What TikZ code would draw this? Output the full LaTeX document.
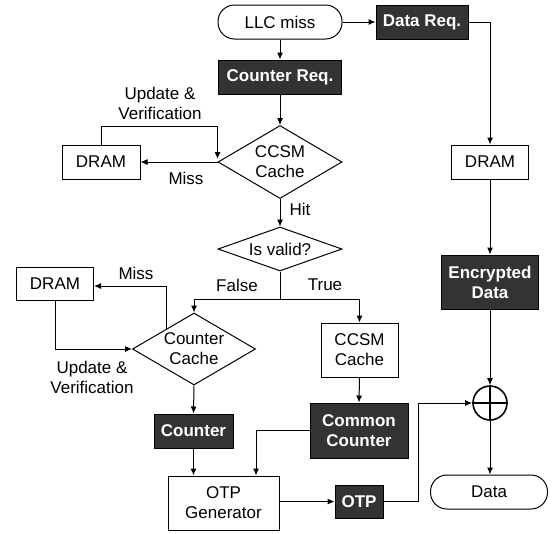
\documentclass[tikz,border=0pt]{standalone}
\usepackage{fontspec}
\setmainfont{Liberation Sans}
\usetikzlibrary{shapes.geometric,arrows.meta,calc}
\definecolor{darkbg}{HTML}{333333}
\begin{document}
\begin{tikzpicture}[x=1pt,y=-1pt,
  base/.style={font=\fontsize{17pt}{20pt}\selectfont, align=center, inner sep=0pt, line width=1pt},
  wbox/.style={base, draw, fill=white},
  dbox/.style={base, draw=black, fill=darkbg, text=white, font=\fontsize{17pt}{20pt}\selectfont\bfseries},
  term/.style={base, draw, rounded corners=16.5pt},
  dec/.style={base, draw, diamond},
  lbl/.style={base},
  arr/.style={-{Latex[length=7pt,width=6pt]}, line width=1pt},
  ln/.style={line width=1pt}]
\useasboundingbox (0,0) rectangle (553,533);

% top and left part
\node[term, minimum width=124pt, minimum height=34pt] (llc) at (280,22) {LLC miss};
\node[dbox, minimum width=92pt, minimum height=34pt] (dreq) at (422,22) {Data Req.};
\node[dbox, minimum width=123pt, minimum height=34pt] (creq) at (280,77) {Counter Req.};
\node[dec, shape aspect=1.7, minimum width=124pt, minimum height=73pt] (ccsm) at (280,162) {CCSM\\Cache};
\node[wbox, minimum width=78pt, minimum height=34pt] (dram1) at (101,162) {DRAM};
\node[dec, shape aspect=2.82, minimum width=124pt, minimum height=44pt] (valid) at (280,249) {Is valid?};
\node[dec, shape aspect=1.71, minimum width=123pt, minimum height=72pt] (cc) at (194,349) {Counter\\Cache};
\node[wbox, minimum width=77pt, minimum height=33pt] (dram2) at (55,284) {DRAM};
\node[wbox, minimum width=77pt, minimum height=54pt] (ccsmb) at (359.5,350) {CCSM\\Cache};
\node[dbox, minimum width=79pt, minimum height=34pt] (cnt) at (193.5,431) {Counter};
\node[dbox, minimum width=98pt, minimum height=55pt] (comm) at (359,430.5) {Common\\Counter};
\node[wbox, minimum width=111pt, minimum height=54pt] (otpg) at (223.5,503) {OTP\\Generator};
\node[dbox, minimum width=48pt, minimum height=33pt] (otp) at (359,501.5) {OTP};

% right column
\node[wbox, minimum width=77pt, minimum height=34pt] (dramr) at (490,162) {DRAM};
\node[dbox, minimum width=97pt, minimum height=54pt] (enc) at (490,282) {Encrypted\\Data};
\node[base, draw, circle, line width=1.6pt, minimum size=34pt] (xor) at (490,403) {};
\node[term, minimum width=117pt, minimum height=34pt] (data) at (489,492) {Data};
\draw[line width=1.6pt] (xor.north) -- (xor.south) (xor.west) -- (xor.east);

% labels
\node[lbl] (l1) at (160,103) {Update \&\\Verification};
\node[lbl] (l2) at (186,178) {Miss};
\node[lbl] (l3) at (300,209) {Hit};
\node[lbl] (l4) at (237,285) {False};
\node[lbl] (l5) at (325,285) {True};
\node[lbl] (l6) at (136,273) {Miss};
\node[lbl] (l7) at (92,377) {Update \&\\Verification};

% connectors
\draw[arr] (llc) -- (creq);
\draw[arr] (llc) -- (dreq);
\draw[arr] (creq) -- (ccsm);
\draw[arr] (ccsm.west) -- (dram1.east);
\draw[arr] (dram1.north) -- ++(0,-18) -| ($(ccsm.west)+(0,-3)$);
\draw[arr] (ccsm.south) -- (valid.north);
\coordinate (j) at ($(valid.south)+(0,28)$);
\draw[ln] (valid.south) -- (j);
\draw[arr] (j) -| (cc.north);
\draw[arr] (j) -| (ccsmb.north);
\coordinate (ccm) at ($(cc.west)!0.56!(cc.north)$);
\draw[arr] (ccm) |- ($(dram2.east)+(0,2)$);
\draw[arr] (dram2.south) |- (cc.west);
\draw[arr] (cc.south) -- (cnt.north);
\draw[arr] (ccsmb.south) -- (comm.north);
\draw[arr] (cnt.south) -- (cnt.south |- otpg.north);
\draw[arr] (comm.west) -| ($(otpg.north)+(32.5,0)$);
\draw[arr] (otpg.east |- otp.west) -- (otp.west);
\draw[arr] (otp.east) -- ++(35,0) |- (xor.west);
\draw[arr] (dreq.east) -| (dramr.north);
\draw[arr] (dramr) -- (enc);
\draw[arr] (enc) -- (xor.north);
\draw[arr] (xor.south) -- (xor.south |- data.north);
\end{tikzpicture}
\end{document}
